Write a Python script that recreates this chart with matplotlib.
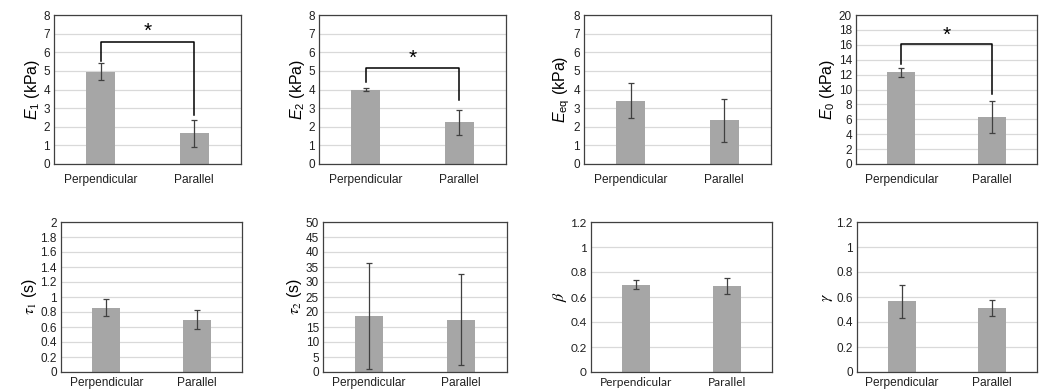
import matplotlib
matplotlib.use("Agg")
import matplotlib.pyplot as plt

plt.rcParams['font.family'] = ['Liberation Sans', 'DejaVu Sans']
plt.rcParams['mathtext.fontset'] = 'custom'
plt.rcParams['mathtext.rm'] = 'Liberation Sans'
plt.rcParams['mathtext.it'] = 'Liberation Sans:italic'

categories = ["Perpendicular", "Parallel"]

E1_mean = [4.95, 1.65]
E1_err = [0.45, 0.72]
E2_mean = [4.0, 2.25]
E2_err = [0.07, 0.67]
Eeq_mean = [3.4, 2.35]
Eeq_err = [0.95, 1.15]
E0_mean = [12.3, 6.25]
E0_err = [0.6, 2.15]
tau1_mean = [0.86, 0.70]
tau1_err = [0.11, 0.125]
tau2_mean = [18.7, 17.5]
tau2_err = [17.6, 15.2]
beta_mean = [0.70, 0.69]
beta_err = [0.037, 0.065]
gamma_mean = [0.565, 0.51]
gamma_err = [0.13, 0.065]

ylabels = [r"$E_1$ (kPa)", r"$E_2$ (kPa)", r"$E_{\rm eq}$ (kPa)", r"$E_0$ (kPa)",
           r"$\tau_1$ (s)", r"$\tau_2$ (s)", r"$\beta$", r"$\gamma$"]
yticks_list = [list(range(0, 9)), list(range(0, 9)), list(range(0, 9)), list(range(0, 21, 2)),
               [0, 0.2, 0.4, 0.6, 0.8, 1, 1.2, 1.4, 1.6, 1.8, 2],
               list(range(0, 51, 5)),
               [0, 0.2, 0.4, 0.6, 0.8, 1, 1.2],
               [0, 0.2, 0.4, 0.6, 0.8, 1, 1.2]]
ytick_labels = [[str(v) for v in yticks_list[0]], [str(v) for v in yticks_list[1]],
                [str(v) for v in yticks_list[2]], [str(v) for v in yticks_list[3]],
                ["0", "0.2", "0.4", "0.6", "0.8", "1", "1.2", "1.4", "1.6", "1.8", "2"],
                [str(v) for v in yticks_list[5]],
                ["0", "0.2", "0.4", "0.6", "0.8", "1", "1.2"],
                ["0", "0.2", "0.4", "0.6", "0.8", "1", "1.2"]]
means = [E1_mean, E2_mean, Eeq_mean, E0_mean, tau1_mean, tau2_mean, beta_mean, gamma_mean]
errs = [E1_err, E2_err, Eeq_err, E0_err, tau1_err, tau2_err, beta_err, gamma_err]

# significance brackets: (top, left leg bottom, right leg bottom, star y)
brackets = {0: (6.57, 5.54, 2.64, 7.1), 1: (5.18, 4.38, 3.41, 5.7), 3: (16.1, 13.4, 9.4, 17.3)}

W, H = 1045, 391
fig = plt.figure(figsize=(W / 100, H / 100), dpi=100)

boxes_px = [(54, 241, 15, 164), (319, 506, 15, 164), (584, 771, 15, 164), (856, 1037, 15, 164),
            (61, 242, 222, 372), (323, 507, 222, 372), (591, 772, 222, 372), (857, 1037, 222, 372)]

bar_color = "#a6a6a6"
for i in range(8):
    l, r, t, b = boxes_px[i]
    ax = fig.add_axes([l / W, 1 - b / H, (r - l) / W, (b - t) / H])
    x = [0, 1]
    ax.bar(x, means[i], width=0.31, color=bar_color, zorder=2)
    ax.errorbar(x, means[i], yerr=errs[i], fmt='none', ecolor="#404040", elinewidth=0.9,
                capsize=2.5, capthick=0.9, zorder=3)
    ax.set_xlim(-0.5, 1.5)
    yt = yticks_list[i]
    ax.set_ylim(0, yt[-1])
    ax.set_yticks(yt)
    tick_font = 'Lato' if i == 6 else 'Liberation Sans'
    ax.set_yticklabels(ytick_labels[i], fontsize=8.5, family=tick_font, color="#202020")
    ax.set_xticks(x)
    ax.set_xticklabels(categories, fontsize=8.6, family=tick_font, color="#202020")
    ax.tick_params(axis='both', length=0, pad=3)
    ax.tick_params(axis='x', pad=7 if i < 4 else 3.5)
    ax.grid(axis='y', color="#d9d9d9", linewidth=0.9, zorder=0)
    ax.set_axisbelow(True)
    for s in ax.spines.values():
        s.set_color("#404040")
        s.set_linewidth(0.9)
    if i >= 4:
        ax.set_ylabel(ylabels[i], fontsize=11.5, labelpad=1, math_fontfamily='stix')
    else:
        ax.set_ylabel(ylabels[i], fontsize=11.5, labelpad=1)
    if i in brackets:
        top, lb, rb, sy = brackets[i]
        ax.plot([0, 0, 1, 1], [lb, top, top, rb], color="black", linewidth=1.1, zorder=4)
        ax.text(0.5, sy, "*", ha='center', va='center', fontsize=15, zorder=4)

fig.savefig("out.png", dpi=100)
